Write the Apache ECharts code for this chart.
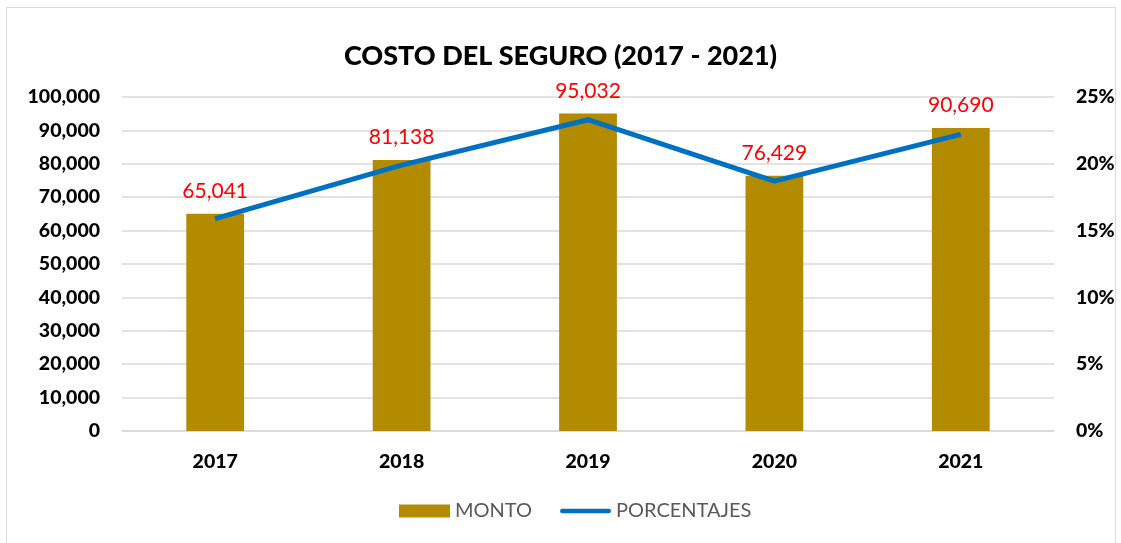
<!DOCTYPE html>
<html>
<head>
<meta charset="utf-8">
<script src="https://cdn.jsdelivr.net/npm/echarts@6/dist/echarts.min.js"></script>
<style>
  html, body { margin: 0; padding: 0; background: #fff; }
  #chart { width: 1121px; height: 543px; }
  #frame { position: absolute; left: 6px; top: 7px; width: 1108px; height: 540px; border: 1px solid #d9d9d9; pointer-events: none; }
</style>
</head>
<body>
<div id="chart"></div>
<div id="frame"></div>
<script>
// datos del gráfico
var years = ["2017", "2018", "2019", "2020", "2021"];
var monto = [65041, 81138, 95032, 76429, 90690];
var porcentajes = [15.9, 19.9, 23.3, 18.7, 22.2];

var FONT = "Lato, 'Open Sans', sans-serif";

var myChart = echarts.init(document.getElementById("chart"));
var option = {
  animation: false,
  title: {
    text: "COSTO DEL SEGURO (2017 - 2021)",
    left: "center",
    top: 38,
    textStyle: { fontFamily: FONT, fontSize: 27, fontWeight: 900, color: "#000" },
  },
  grid: { left: 122, right: 67, top: 97, bottom: 112 },
  legend: {
    bottom: 17,
    left: 394,
    itemGap: 28,
    itemWidth: 51,
    itemHeight: 13,
    textStyle: { fontFamily: FONT, fontSize: 20, color: "#595959" },
    data: [
      { name: "MONTO", icon: "rect" },
      { name: "PORCENTAJES", icon: "path://M2.5,0 H52.5 A2.5,2.5 0 0 1 52.5,5 H2.5 A2.5,2.5 0 0 1 2.5,0 Z" },
    ],
  },
  xAxis: {
    type: "category",
    data: years,
    axisTick: { show: false },
    axisLine: { lineStyle: { color: "#d9d9d9", width: 1.5 } },
    axisLabel: { fontFamily: FONT, fontSize: 19.5, fontWeight: 900, color: "#000", margin: 21 },
  },
  yAxis: [
    {
      type: "value",
      min: 0,
      max: 100000,
      interval: 10000,
      axisLine: { show: false },
      axisTick: { show: false },
      splitLine: { lineStyle: { color: "#d9d9d9", width: 1.5 } },
      axisLabel: {
        fontFamily: FONT, fontSize: 19.5, fontWeight: 900, color: "#000", margin: 22,
        formatter: function (v) { return v.toLocaleString("en-US"); },
      },
    },
    {
      type: "value",
      min: 0,
      max: 25,
      interval: 5,
      axisLine: { show: false },
      axisTick: { show: false },
      splitLine: { show: false },
      axisLabel: {
        fontFamily: FONT, fontSize: 19.5, fontWeight: 900, color: "#000", margin: 22,
        formatter: "{value}%",
      },
    },
  ],
  series: [
    {
      name: "MONTO",
      type: "bar",
      data: monto,
      barWidth: "31%",
      itemStyle: { color: "#B38B00" },
      label: {
        show: true,
        position: "top",
        distance: 12,
        color: "#FF0000",
        fontFamily: FONT,
        fontSize: 21,
        formatter: function (p) { return p.value.toLocaleString("en-US"); },
      },
    },
    {
      name: "PORCENTAJES",
      type: "line",
      yAxisIndex: 1,
      data: porcentajes,
      symbol: "none",
      lineStyle: { color: "#0070C0", width: 5 },
      itemStyle: { color: "#0070C0" },
    },
  ],
};
myChart.setOption(option);
</script>
</body>
</html>
